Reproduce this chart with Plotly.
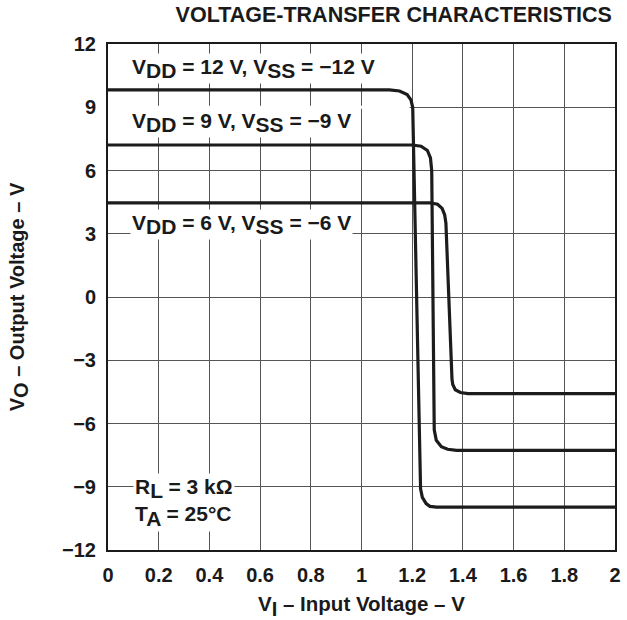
import plotly.graph_objects as go

# Input voltage (V) and output voltage (V) for each supply condition
vi_12 = [0, 1.11, 1.15, 1.18, 1.195, 1.202, 1.233, 1.24, 1.255, 1.27, 1.296, 2.0]
vo_12 = [9.82, 9.82, 9.77, 9.6, 9.35, 9.0, -9.1, -9.5, -9.8, -9.93, -9.97, -9.97]

vi_9 = [0, 1.20, 1.235, 1.26, 1.272, 1.277, 1.287, 1.295, 1.315, 1.34, 1.375, 2.0]
vo_9 = [7.21, 7.21, 7.15, 6.95, 6.6, 6.0, -6.3, -6.8, -7.1, -7.22, -7.27, -7.27]

vi_6 = [0, 1.27, 1.30, 1.318, 1.328, 1.333, 1.357, 1.36, 1.37, 1.39, 1.42, 2.0]
vo_6 = [4.46, 4.46, 4.4, 4.2, 3.9, 3.5, -3.9, -4.15, -4.4, -4.53, -4.58, -4.58]

x_ticks = [0, 0.2, 0.4, 0.6, 0.8, 1, 1.2, 1.4, 1.6, 1.8, 2]
x_ticklabels = ["0", "0.2", "0.4", "0.6", "0.8", "1", "1.2", "1.4", "1.6", "1.8", "2"]
y_ticks = [-12, -9, -6, -3, 0, 3, 6, 9, 12]

FONT = "Liberation Sans, Arial, Helvetica, sans-serif"
LINE = "#1c1c1c"
TXT = "#1a1a1a"
FS = 20
AFS = 21


def sub(s, size=FS):
    return f'<sub><span style="font-size:{size}px">{s}</span></sub>'


fig = go.Figure()
for xs, ys in [(vi_12, vo_12), (vi_9, vo_9), (vi_6, vo_6)]:
    fig.add_trace(go.Scatter(x=xs, y=ys, mode="lines",
                             line=dict(color=LINE, width=3.2), showlegend=False,
                             hoverinfo="skip"))

ann_font = dict(family=FONT, size=AFS, color=TXT, weight="bold")
labels = [
    (0.085, 10.86, f"V{sub('DD', AFS)} = 12 V, V{sub('SS', AFS)} = −12 V"),
    (0.085, 8.3, f"V{sub('DD', AFS)} = 9 V, V{sub('SS', AFS)} = −9 V"),
    (0.085, 3.42, f"V{sub('DD', AFS)} = 6 V, V{sub('SS', AFS)} = −6 V"),
    (0.1, -9.75, f"R{sub('L', AFS)} = 3 kΩ<br>T{sub('A', AFS)} = 25°C"),
]
for x, y, t in labels:
    fig.add_annotation(x=x, y=y, text=t, showarrow=False, xanchor="left",
                       yanchor="middle", align="left", bgcolor="white",
                       borderpad=1, font=ann_font)

# hidden section of the 9 V gridline
fig.add_shape(type="line", x0=0, x1=1.19, y0=9, y1=9, layer="between",
              line=dict(color="white", width=3))

fig.update_layout(
    width=627, height=620,
    margin=dict(l=108, r=12, t=44, b=70),
    paper_bgcolor="white", plot_bgcolor="white",
    font=dict(family=FONT, color=TXT),
    title=dict(text="VOLTAGE-TRANSFER CHARACTERISTICS", x=0.976, xanchor="right",
               xref="container", yref="container", y=0.977, yanchor="middle",
               font=dict(family=FONT, size=21.5, weight="bold", color=TXT)),
)
fig.update_xaxes(
    range=[0, 2], tickvals=x_ticks, ticktext=x_ticklabels,
    showgrid=True, gridcolor="#555555", gridwidth=1,
    showline=True, linecolor=TXT, linewidth=2, mirror=True,
    ticks="", zeroline=False, ticklabelstandoff=6, automargin=False,
    tickfont=dict(family=FONT, size=FS, weight="bold", color=TXT),
    title=dict(text=f"V{sub('I', 20)} – Input Voltage – V", standoff=12,
               font=dict(family=FONT, size=20.5, weight="bold", color=TXT)),
)
fig.update_yaxes(
    range=[-12, 12], tickvals=y_ticks,
    showgrid=True, gridcolor="#555555", gridwidth=1,
    showline=True, linecolor=TXT, linewidth=2, mirror=True,
    ticks="", zeroline=False, ticklabelstandoff=6, automargin=False,
    tickfont=dict(family=FONT, size=FS, weight="bold", color=TXT),
    title=dict(text=f"V{sub('O', 20)} – Output Voltage – V", standoff=32,
               font=dict(family=FONT, size=20, weight="bold", color=TXT)),
)

fig.write_html(
    "out.html",
    config={"displayModeBar": False},
    post_script="document.body.style.margin='0';"
                "document.documentElement.style.overflow='hidden';",
)
